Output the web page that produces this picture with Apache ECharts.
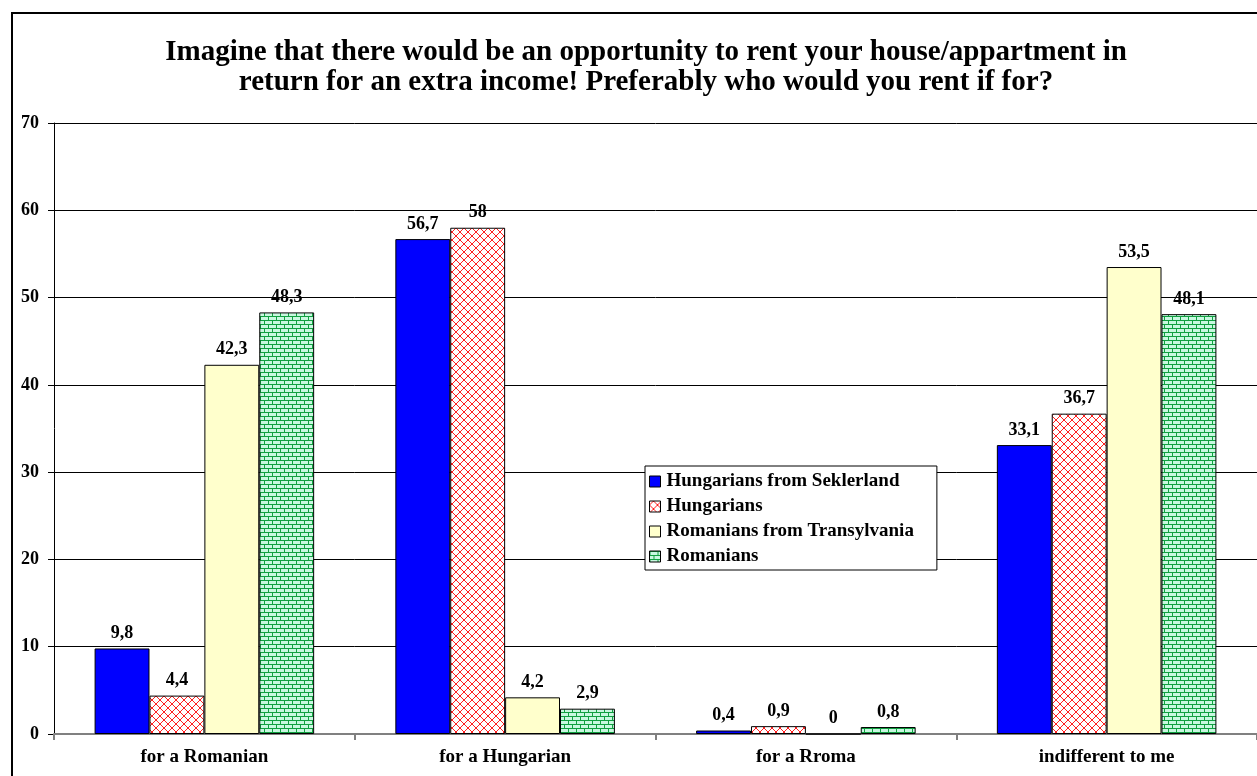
<!DOCTYPE html>
<html>
<head>
<meta charset="utf-8">
<script src="https://cdn.jsdelivr.net/npm/echarts@6/dist/echarts.min.js"></script>
<style>
  html, body { margin: 0; padding: 0; background: #fff; }
  #chart { width: 1257px; height: 776px; }
</style>
</head>
<body>
<div id="chart"></div>
<script>
// Survey answers, percent of respondents
const categories = ['for a Romanian', 'for a Hungarian', 'for a Rroma', 'indifferent to me'];
const seriesNames = ['Hungarians from Seklerland', 'Hungarians', 'Romanians from Transylvania', 'Romanians'];
const seklerland = [9.8, 56.7, 0.4, 33.1];
const hungarians = [4.4, 58, 0.9, 36.7];
const transylvania = [42.3, 4.2, 0, 53.5];
const romanians = [48.3, 2.9, 0.8, 48.1];
const yTicks = [0, 10, 20, 30, 40, 50, 60, 70];

const FONT = '"Liberation Serif", "Times New Roman", serif';

// Red diamond lattice on white
function latticePattern() {
  const c = document.createElement('canvas');
  c.width = 8; c.height = 8;
  const g = c.getContext('2d');
  g.fillStyle = '#ffffff';
  g.fillRect(0, 0, 8, 8);
  g.fillStyle = '#ff2020';
  const pts = [[3,0],[4,0],[5,1],[6,2],[7,3],[7,4],[6,5],[5,6],[4,7],[3,7],[2,6],[1,5],[0,4],[0,3],[1,2],[2,1]];
  pts.forEach(p => g.fillRect(p[0], p[1], 1, 1));
  return c;
}

// Green brick wall on light mint
function brickPattern() {
  const c = document.createElement('canvas');
  c.width = 8; c.height = 8;
  const g = c.getContext('2d');
  g.fillStyle = '#c8f8e0';
  g.fillRect(0, 0, 8, 8);
  g.fillStyle = '#10a040';
  g.fillRect(0, 0, 8, 1);
  g.fillRect(0, 4, 8, 1);
  g.fillRect(0, 0, 1, 4);
  g.fillRect(4, 4, 1, 4);
  return c;
}

const fills = [
  '#0000ff',
  { image: latticePattern(), repeat: 'repeat' },
  '#ffffcc',
  { image: brickPattern(), repeat: 'repeat' }
];
const values = [seklerland, hungarians, transylvania, romanians];

const chart = echarts.init(document.getElementById('chart'), null, { renderer: 'canvas' });

chart.setOption({
  animation: false,
  backgroundColor: '#ffffff',
  textStyle: { fontFamily: FONT },
  title: {
    text: 'Imagine that there would be an opportunity to rent your house/appartment in\nreturn for an extra income! Preferably who would you rent if for?',
    left: 641,
    textAlign: 'center',
    top: 33,
    textStyle: { fontFamily: FONT, fontSize: 29, fontWeight: 'bold', color: '#000', lineHeight: 30 }
  },
  graphic: [{
    type: 'rect',
    shape: { x: 12, y: 13, width: 1260, height: 790 },
    style: { fill: 'none', stroke: '#000', lineWidth: 2 },
    silent: true
  }],
  legend: {
    orient: 'vertical',
    left: 645,
    top: 466,
    backgroundColor: '#ffffff',
    borderColor: '#000',
    borderWidth: 1,
    padding: [6, 23, 4, 4],
    itemWidth: 11,
    itemHeight: 11,
    itemGap: 6,
    icon: 'rect',
    itemStyle: { borderColor: '#000', borderWidth: 1 },
    textStyle: { fontFamily: FONT, fontSize: 19, fontWeight: 'bold', color: '#000', lineHeight: 19, padding: [0, 0, 0, 1] },
    data: seriesNames
  },
  grid: { left: 54, right: 0, top: 123, bottom: 42, containLabel: false },
  xAxis: {
    type: 'category',
    data: categories,
    axisLine: { lineStyle: { color: '#808080', width: 2 } },
    axisTick: { show: true, length: 6, lineStyle: { color: '#808080', width: 2 } },
    axisLabel: { fontFamily: FONT, fontSize: 19, fontWeight: 'bold', color: '#000', margin: 14 },
    splitLine: { show: false }
  },
  yAxis: {
    type: 'value',
    min: yTicks[0],
    max: yTicks[yTicks.length - 1],
    interval: 10,
    axisLine: { show: true, lineStyle: { color: '#000', width: 1 } },
    axisTick: { show: true, length: 6, lineStyle: { color: '#000' } },
    axisLabel: { fontFamily: FONT, fontSize: 18, fontWeight: 'bold', color: '#000', margin: 15 },
    splitLine: { lineStyle: { color: '#000', width: 1 } }
  },
  series: seriesNames.map((name, i) => ({
    name: name,
    type: 'bar',
    data: values[i],
    barGap: '0%',
    barCategoryGap: '27%',
    itemStyle: { color: fills[i], borderColor: '#000', borderWidth: 1 },
    label: {
      show: true,
      position: 'top',
      distance: 6,
      fontFamily: FONT,
      fontSize: 18,
      fontWeight: 'bold',
      color: '#000',
      formatter: p => String(p.value).replace('.', ',')
    },
    emphasis: { disabled: true }
  }))
});
</script>
</body>
</html>
